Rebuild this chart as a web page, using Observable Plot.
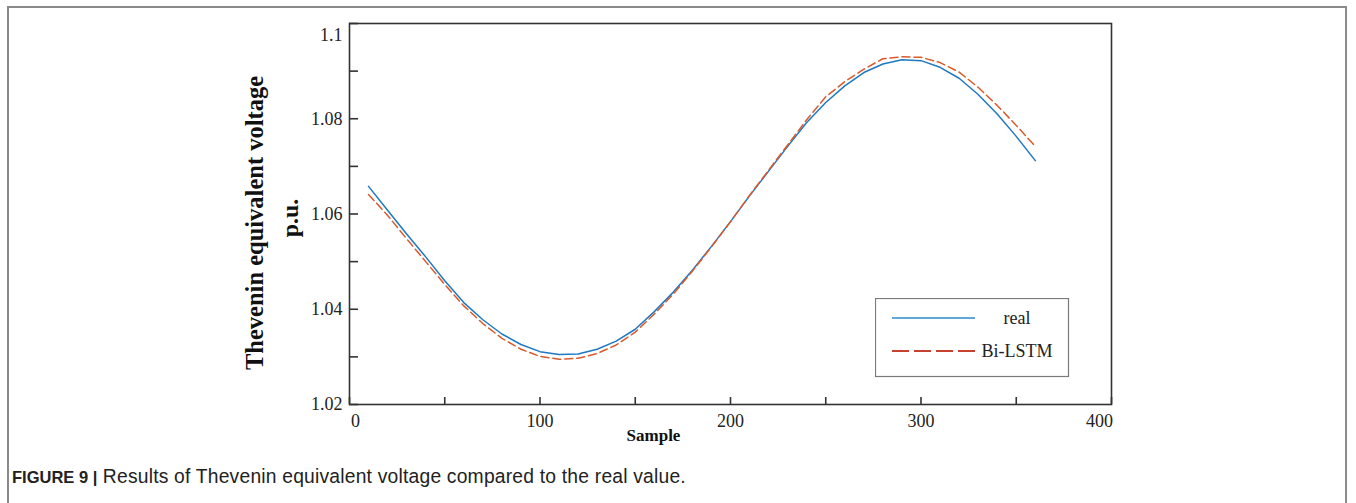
<!DOCTYPE html>
<html>
<head>
<meta charset="utf-8">
<script src="https://cdn.jsdelivr.net/npm/d3@7"></script>
<script src="https://cdn.jsdelivr.net/npm/@observablehq/plot@0.6"></script>
<style>
  html, body { margin: 0; padding: 0; background: #fff; }
  #wrap { position: relative; width: 1356px; height: 503px; overflow: hidden; }
  #border { position: absolute; left: 7px; top: 6px; width: 1340px; height: 600px;
            border: 2px solid #8a8a8a; box-sizing: border-box; }
  #chart { position: absolute; left: 0; top: 0; }
  #legend { position: absolute; left: 875px; top: 298px; }
  #caption { position: absolute; left: 12px; top: 466px; font-family: "Liberation Sans", Arial, sans-serif;
             font-size: 19.3px; letter-spacing: 0.2px; color: #222; white-space: nowrap; }
  #caption b { font-weight: bold; font-size: 16.5px; letter-spacing: 0; }
</style>
</head>
<body>
<div id="wrap">
  <div id="border"></div>
  <div id="chart"></div>
  <div id="legend"></div>
  <div id="caption"><b>FIGURE 9 |</b> Results of Thevenin equivalent voltage compared to the real value.</div>
</div>
<script>
// ---- data ----
const samples = [10,20,30,40,50,60,70,80,90,100,110,120,130,140,150,160,170,180,190,200,
                 210,220,230,240,250,260,270,280,290,300,310,320,330,340,350,360];
const realValues = [1.0658,1.0608,1.0558,1.0510,1.0460,1.0414,1.0378,1.0348,1.0326,1.0311,
                    1.0305,1.0306,1.0316,1.0333,1.0358,1.0395,1.0436,1.0482,1.0532,1.0584,
                    1.0638,1.0690,1.0742,1.0792,1.0834,1.0869,1.0897,1.0915,1.0924,1.0922,
                    1.0908,1.0885,1.0851,1.0810,1.0763,1.0712];
const biLSTMValues = [1.0641,1.0597,1.0548,1.0500,1.0452,1.0407,1.0370,1.0339,1.0316,1.0301,
                      1.0295,1.0297,1.0307,1.0325,1.0352,1.0390,1.0432,1.0480,1.0531,1.0584,
                      1.0639,1.0692,1.0745,1.0798,1.0846,1.0878,1.0904,1.0926,1.0930,1.0929,
                      1.0918,1.0898,1.0866,1.0828,1.0786,1.0742];
const seriesNames = ["real", "Bi-LSTM"];
const xTicks = [0,50,100,150,200,250,300,350,400];
const xTickLabels = [100,200,300];
const yTicks = [1.02,1.03,1.04,1.05,1.06,1.07,1.08,1.09,1.1];
const yTickLabels = [1.02,1.04,1.06,1.08];
const xLabel = "Sample";
const yLabelLines = ["Thevenin equivalent voltage", "p.u."];

const colors = {"real": "#1f78c1", "Bi-LSTM": "#d95a2b"};
const legendColors = {"real": "#2a8ad4", "Bi-LSTM": "#c8412e"};

const realData = samples.map((s, i) => ({sample: s, value: realValues[i]}));
const biData = samples.map((s, i) => ({sample: s, value: biLSTMValues[i]}));

const serif = "'Liberation Serif', 'Times New Roman', serif";

const chart = Plot.plot({
  width: 1356,
  height: 450,
  marginLeft: 349,
  marginRight: 245,
  marginTop: 23,
  marginBottom: 46,
  style: {fontFamily: serif, fontSize: "18px", color: "#222", background: "transparent", overflow: "visible"},
  x: {domain: [0, 400]},
  y: {domain: [1.02, 1.1]},
  marks: [
    Plot.line(realData, {x: "sample", y: "value", stroke: colors["real"], strokeWidth: 1.5}),
    Plot.line(biData, {x: "sample", y: "value", stroke: colors["Bi-LSTM"], strokeWidth: 1.5, strokeDasharray: "8,4"}),
    Plot.frame({stroke: "#333", strokeWidth: 1.6}),
    // inward ticks
    Plot.axisX({ticks: xTicks, tickSize: -7, tickFormat: () => "", label: null, stroke: "#333", strokeWidth: 1.6}),
    Plot.axisY({ticks: yTicks, tickSize: -9, tickFormat: () => "", label: null, stroke: "#333", strokeWidth: 1.6}),
    // labels
    Plot.axisX({ticks: xTickLabels, tickSize: 0, tickPadding: 10, label: null, fill: "#222"}),
    Plot.axisX({ticks: [0], tickSize: 0, tickPadding: 10, label: null, dx: 6, fill: "#222"}),
    Plot.axisX({ticks: [400], tickSize: 0, tickPadding: 10, label: null, dx: -12, fill: "#222"}),
    Plot.axisY({ticks: yTickLabels, tickSize: 0, tickPadding: 7, label: null, tickFormat: d => d.toFixed(2), fill: "#222"}),
    Plot.axisY({ticks: [1.1], tickSize: 0, tickPadding: 7, label: null, tickFormat: d => "1.1", dy: 12, fill: "#222"}),
    Plot.text([xLabel], {frameAnchor: "bottom", text: d => d, dx: -77, dy: 36, fontWeight: "bold", fontSize: 17, fill: "#111"}),
    Plot.text([yLabelLines[0]], {frameAnchor: "left", text: d => d, textAnchor: "middle", lineAnchor: "middle", rotate: -90, dx: -94, dy: 9, fontWeight: "bold", fontSize: 24.5, fill: "#111"}),
    Plot.text([yLabelLines[1]], {frameAnchor: "left", text: d => d, textAnchor: "middle", lineAnchor: "middle", rotate: -90, dx: -59, dy: 4, fontWeight: "bold", fontSize: 24, fill: "#111"})
  ]
});
document.getElementById("chart").appendChild(chart);

// legend
const lg = d3.select("#legend").append("svg").attr("width", 196).attr("height", 81);
lg.append("rect").attr("x", 0.5).attr("y", 0.5).attr("width", 193).attr("height", 78)
  .attr("fill", "white").attr("stroke", "#7a7a7a").attr("stroke-width", 1.2);
seriesNames.forEach((name, i) => {
  const y = i === 0 ? 20 : 53;
  lg.append("line").attr("x1", 17).attr("x2", 100).attr("y1", y).attr("y2", y)
    .attr("stroke", legendColors[name]).attr("stroke-width", i === 0 ? 1.5 : 2.2)
    .attr("stroke-dasharray", i === 0 ? null : "17,5");
  lg.append("text").attr("x", 142).attr("y", y).attr("dy", "0.35em").attr("text-anchor", "middle")
    .attr("font-family", serif).attr("font-size", 18).attr("fill", "#222").text(name);
});
</script>
</body>
</html>
